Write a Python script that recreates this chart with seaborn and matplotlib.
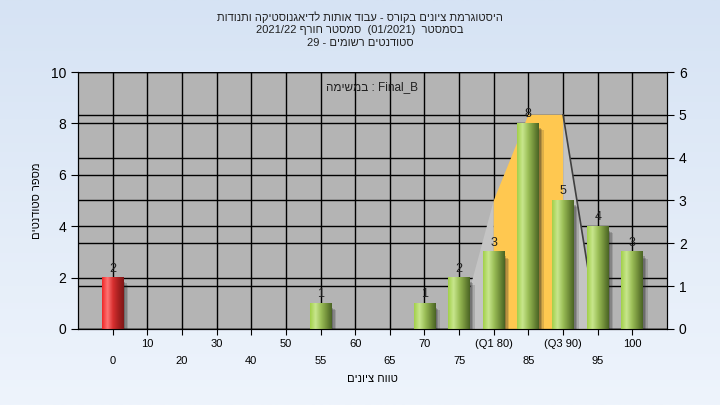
import re
import numpy as np
import pandas as pd
import matplotlib
matplotlib.use('Agg')
import matplotlib.pyplot as plt
import seaborn as sns
from matplotlib.colors import LinearSegmentedColormap
from matplotlib.patches import Polygon, Rectangle

# --- נתונים ---
categories = ["0", "10", "20", "30", "40", "50", "55", "60", "65", "70",
              "75", "80", "85", "90", "95", "100"]
tick_labels = ["0", "10", "20", "30", "40", "50", "55", "60", "65", "70",
               "75", "(Q1 80)", "85", "(Q3 90)", "95", "100"]
counts = [2, 0, 0, 0, 0, 0, 1, 0, 0, 1, 2, 3, 8, 5, 4, 3]
bar_kind = ["fail"] + ["pass"] * 15

# צורת התפלגות (ציר ימני): רבעונים ושוליים
shape_cats = ["75", "80", "85", "90", "95"]
shape_right = [0, 3, 5, 5, 0]

left_ticks = [0, 2, 4, 6, 8, 10]
right_ticks = [0, 1, 2, 3, 4, 5, 6]

title_lines = ["היסטוגרמת ציונים בקורס - עבוד אותות לדיאגנוסטיקה ותנודות",
               "בסמסטר  (01/2021)  סמסטר חורף 2021/22",
               "סטודנטים רשומים - 29"]
legend_text = "Final_B : במשימה"
x_title = "טווח ציונים"
y_title = "מספר סטודנטים"

LTR = r'\(?[A-Za-z0-9][A-Za-z0-9_/.]*\)?'


def rtl(text):
    """סדר תצוגה פשוט לטקסט עברי (matplotlib לא מטפל ב-bidi)."""
    parts = re.split('(' + LTR + ')', text)
    out = [p if re.fullmatch(LTR, p) else p[::-1] for p in parts]
    return ''.join(reversed(out))


plt.rcParams['font.family'] = ['Liberation Sans', 'DejaVu Sans']

fig = plt.figure(figsize=(7.2, 4.05), dpi=100)

# רקע מדורג
bg = fig.add_axes([0, 0, 1, 1], zorder=-10)
bg.imshow(np.linspace(0, 1, 256).reshape(-1, 1),
          cmap=LinearSegmentedColormap.from_list('bg', ['#d6e3f4', '#eef4fc']),
          aspect='auto', extent=[0, 1, 0, 1])
bg.axis('off')

ax = fig.add_axes([0.1083, 0.1877, 0.8181, 0.6345])
ax.set_facecolor('#b4b4b4')

df = pd.DataFrame({"cat": categories, "count": counts, "kind": bar_kind})
sns.barplot(data=df, x="cat", y="count", hue="kind", order=categories,
            palette={"fail": "#e83030", "pass": "#9bc94a"}, width=0.63,
            dodge=False, legend=False, ax=ax, zorder=3)

ymax = left_ticks[-1]
rmax = right_ticks[-1]
scale = ymax / rmax

# קווי רשת
for t in left_ticks:
    ax.axhline(t, color='black', lw=1, zorder=0.5)
for t in right_ticks:
    ax.axhline(t * scale, color='black', lw=1, zorder=0.5)
for i in range(len(categories)):
    ax.axvline(i, color='black', lw=1, zorder=0.5)

# צורת הרבעונים
sx = [categories.index(c) for c in shape_cats]
sy = [v * scale for v in shape_right]
ax.add_patch(Polygon([(sx[0], 0), (sx[1], sy[1]), (sx[1], 0)], closed=True,
                     fc='#c4c4c4', ec='none', zorder=1))
ax.add_patch(Polygon([(sx[3], 0), (sx[3], sy[3]), (sx[4], 0)], closed=True,
                     fc='#c4c4c4', ec='none', zorder=1))
ax.add_patch(Polygon([(sx[1], 0), (sx[1], sy[1]), (sx[2], sy[2]),
                      (sx[3], sy[3]), (sx[3], 0)], closed=True,
                     fc='#ffc850', ec='none', zorder=1.2))
ax.plot([sx[3], sx[4]], [sy[3], sy[4]], color='#404040', lw=1.2, zorder=1.3)

# עמודות עם מעבר צבע וצל
green = LinearSegmentedColormap.from_list(
    'g', ['#a2d04a', '#c8e68e', '#9cc058', '#74923c', '#4a6424'])
red = LinearSegmentedColormap.from_list(
    'r', ['#f02828', '#ff7474', '#d83030', '#a82020', '#801818'])
grad = np.linspace(0, 1, 64).reshape(1, -1)
for patch, kind in zip(ax.patches, bar_kind):
    h = patch.get_height()
    if not h or np.isnan(h):
        continue
    x0, w = patch.get_x(), patch.get_width()
    for k, a in enumerate([0.24, 0.2, 0.15]):
        off = 0.045 * (k + 1)
        ax.add_patch(Rectangle((x0 + off, -0.05), w, h - 0.12 - 0.05 * k,
                               fc='#202020', ec='none', alpha=a, zorder=2))
    ax.imshow(grad, cmap=red if kind == "fail" else green, aspect='auto',
              extent=[x0, x0 + w, 0, h], zorder=3.5)
    patch.set_visible(False)
    ax.text(x0 + w / 2, h + 0.12, str(int(h)),
            ha='center', va='bottom', fontsize=9, color='#202020', zorder=5)

ax.set_xlim(-1, len(categories))
ax.set_ylim(0, ymax)

# צירים ותוויות
ax.set_xticks(range(len(categories)))
ax.set_xticklabels([lab if i % 2 else "\n" + lab for i, lab in enumerate(tick_labels)],
                   fontsize=8)
for lab in ax.get_xticklabels():
    lab.set_linespacing(1.9)
ax.set_yticks(left_ticks)
ax.tick_params(axis='y', labelsize=10, length=5, direction='out')
ax.tick_params(axis='x', length=4, direction='out', pad=3)
ax.spines['top'].set_visible(False)
for s in ['left', 'right', 'bottom']:
    ax.spines[s].set_color('black')
ax.set_xlabel(rtl(x_title), fontsize=8, labelpad=6)
ax.set_ylabel(rtl(y_title), fontsize=8, labelpad=6)

ax2 = ax.twinx()
ax2.set_ylim(0, rmax)
ax2.set_yticks(right_ticks)
ax2.tick_params(axis='y', labelsize=10, length=5, direction='out')
ax2.spines['top'].set_visible(False)

ax.text(0.5, 0.94, rtl(legend_text), transform=ax.transAxes, ha='center',
        va='center', fontsize=8.5, color='#202020', zorder=6)

for k, line in enumerate(title_lines):
    fig.text(0.5, 1 - (17 + 13 * k) / 405, rtl(line), ha='center', va='center',
             fontsize=8, color='#202020')

fig.savefig('out.png', dpi=100)
